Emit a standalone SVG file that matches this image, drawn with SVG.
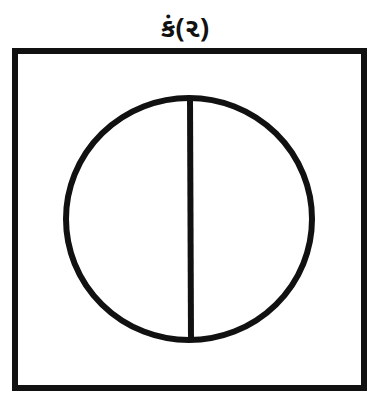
<svg xmlns="http://www.w3.org/2000/svg" width="367" height="395" viewBox="0 0 367 395">
<style>
.s{fill:none;stroke:#111;stroke-width:6}
.t{font-family:"Noto Sans Gujarati","Noto Sans","DejaVu Sans",sans-serif;font-size:27px;font-weight:bold;fill:#111;text-anchor:middle}
</style>
<rect width="367" height="395" fill="#fff"/>
<g id="title"><text class="t" x="185" y="37">કં(૨)</text></g>
<g id="frame"><rect class="s" x="15" y="51" width="349" height="337"/></g>
<g id="circle"><ellipse class="s" cx="189" cy="219" rx="123" ry="121"/></g>
<g id="connectors"><line class="s" x1="190" y1="98" x2="191" y2="340"/></g>
</svg>
